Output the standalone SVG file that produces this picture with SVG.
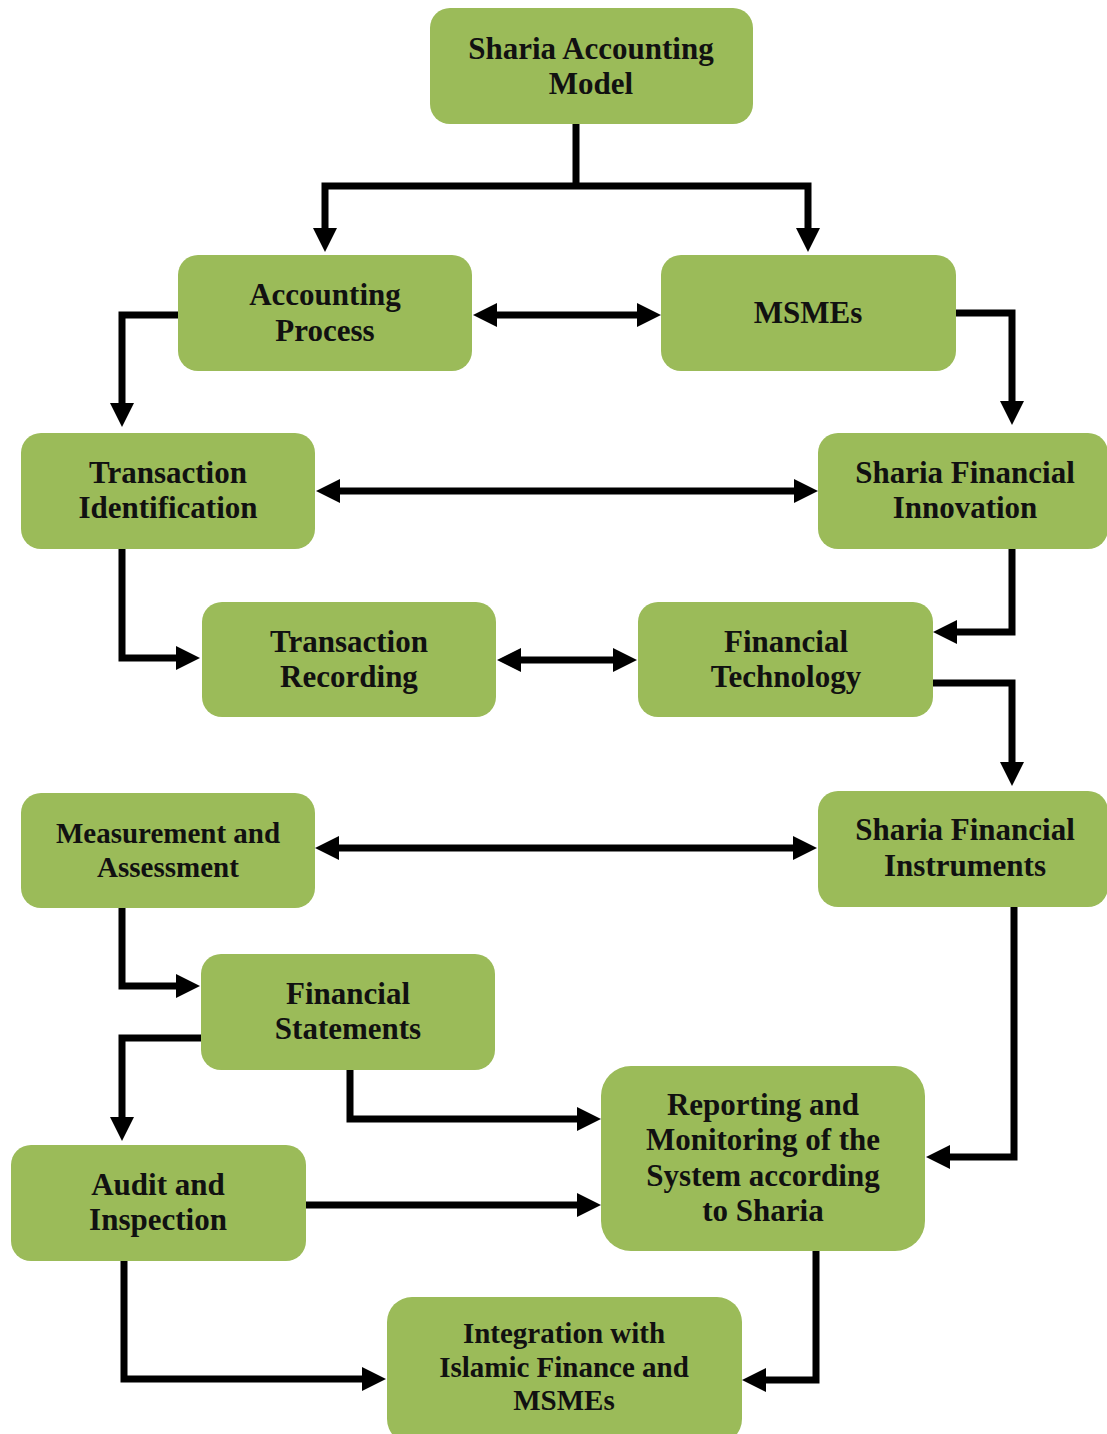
<svg xmlns="http://www.w3.org/2000/svg" width="1107" height="1434" viewBox="0 0 1107 1434">
<style>
.box{fill:#9BBB59;}
.lbl{font-family:"Liberation Serif","Times New Roman",serif;font-weight:bold;font-size:31px;fill:#111;text-anchor:middle;}
.sm{font-size:29px;}
.con{fill:none;stroke:#000;stroke-width:7;stroke-linejoin:miter;stroke-linecap:butt;}
</style>
<defs>
<marker id="ah" markerUnits="userSpaceOnUse" markerWidth="24" markerHeight="24" refX="4" refY="12" orient="auto-start-reverse" viewBox="0 0 24 24">
<path d="M0,0 L24,12 L0,24 Z" fill="#000"/>
</marker>
</defs>
<rect x="0" y="0" width="1107" height="1434" fill="#fff"/>
<g id="connectors">
<path class="con" d="M576,124 V186"/>
<path class="con" d="M325,232 V186 H808 V232" marker-start="url(#ah)" marker-end="url(#ah)"/>
<path class="con" d="M493,315 H641" marker-start="url(#ah)" marker-end="url(#ah)"/>
<path class="con" d="M178,315 H122 V407" marker-end="url(#ah)"/>
<path class="con" d="M956,313 H1012 V405" marker-end="url(#ah)"/>
<path class="con" d="M336,491 H798" marker-start="url(#ah)" marker-end="url(#ah)"/>
<path class="con" d="M122,549 V658 H180" marker-end="url(#ah)"/>
<path class="con" d="M517,660 H617" marker-start="url(#ah)" marker-end="url(#ah)"/>
<path class="con" d="M1012,548 V632 H953" marker-end="url(#ah)"/>
<path class="con" d="M933,683 H1012 V766" marker-end="url(#ah)"/>
<path class="con" d="M335,848 H797" marker-start="url(#ah)" marker-end="url(#ah)"/>
<path class="con" d="M122,908 V986 H180" marker-end="url(#ah)"/>
<path class="con" d="M201,1038 H122 V1121" marker-end="url(#ah)"/>
<path class="con" d="M350,1070 V1119 H581" marker-end="url(#ah)"/>
<path class="con" d="M1014,907 V1157 H946" marker-end="url(#ah)"/>
<path class="con" d="M306,1205 H581" marker-end="url(#ah)"/>
<path class="con" d="M124,1261 V1379 H366" marker-end="url(#ah)"/>
<path class="con" d="M816,1251 V1380 H762" marker-end="url(#ah)"/>
</g>
<g id="n-model"><rect class="box" x="430" y="8" width="323" height="116" rx="20"/>
<text class="lbl" x="591" y="59">Sharia Accounting</text><text class="lbl" x="591" y="94">Model</text></g>
<g id="n-accproc"><rect class="box" x="178" y="255" width="294" height="116" rx="20"/>
<text class="lbl" x="325" y="305">Accounting</text><text class="lbl" x="325" y="341">Process</text></g>
<g id="n-msmes"><rect class="box" x="661" y="255" width="295" height="116" rx="20"/>
<text class="lbl" x="808" y="323">MSMEs</text></g>
<g id="n-transid"><rect class="box" x="21" y="433" width="294" height="116" rx="20"/>
<text class="lbl" x="168" y="483">Transaction</text><text class="lbl" x="168" y="518">Identification</text></g>
<g id="n-sfinnov"><rect class="box" x="818" y="433" width="290" height="116" rx="20"/>
<text class="lbl" x="965" y="483">Sharia Financial</text><text class="lbl" x="965" y="518">Innovation</text></g>
<g id="n-transrec"><rect class="box" x="202" y="602" width="294" height="115" rx="20"/>
<text class="lbl" x="349" y="652">Transaction</text><text class="lbl" x="349" y="687">Recording</text></g>
<g id="n-fintech"><rect class="box" x="638" y="602" width="295" height="115" rx="20"/>
<text class="lbl" x="786" y="652">Financial</text><text class="lbl" x="786" y="687">Technology</text></g>
<g id="n-measure"><rect class="box" x="21" y="793" width="294" height="115" rx="20"/>
<text class="lbl sm" x="168" y="843">Measurement and</text><text class="lbl sm" x="168" y="877">Assessment</text></g>
<g id="n-sfinstr"><rect class="box" x="818" y="791" width="290" height="116" rx="20"/>
<text class="lbl" x="965" y="840">Sharia Financial</text><text class="lbl" x="965" y="876">Instruments</text></g>
<g id="n-finstat"><rect class="box" x="201" y="954" width="294" height="116" rx="20"/>
<text class="lbl" x="348" y="1004">Financial</text><text class="lbl" x="348" y="1039">Statements</text></g>
<g id="n-audit"><rect class="box" x="11" y="1145" width="295" height="116" rx="20"/>
<text class="lbl" x="158" y="1195">Audit and</text><text class="lbl" x="158" y="1230">Inspection</text></g>
<g id="n-report"><rect class="box" x="601" y="1066" width="324" height="185" rx="30"/>
<text class="lbl" x="763" y="1115">Reporting and</text><text class="lbl" x="763" y="1150">Monitoring of the</text><text class="lbl" x="763" y="1186">System according</text><text class="lbl" x="763" y="1221">to Sharia</text></g>
<g id="n-integr"><rect class="box" x="387" y="1297" width="355" height="147" rx="25"/>
<text class="lbl sm" x="564" y="1343">Integration with</text><text class="lbl sm" x="564" y="1377">Islamic Finance and</text><text class="lbl sm" x="564" y="1410">MSMEs</text></g>
</svg>
